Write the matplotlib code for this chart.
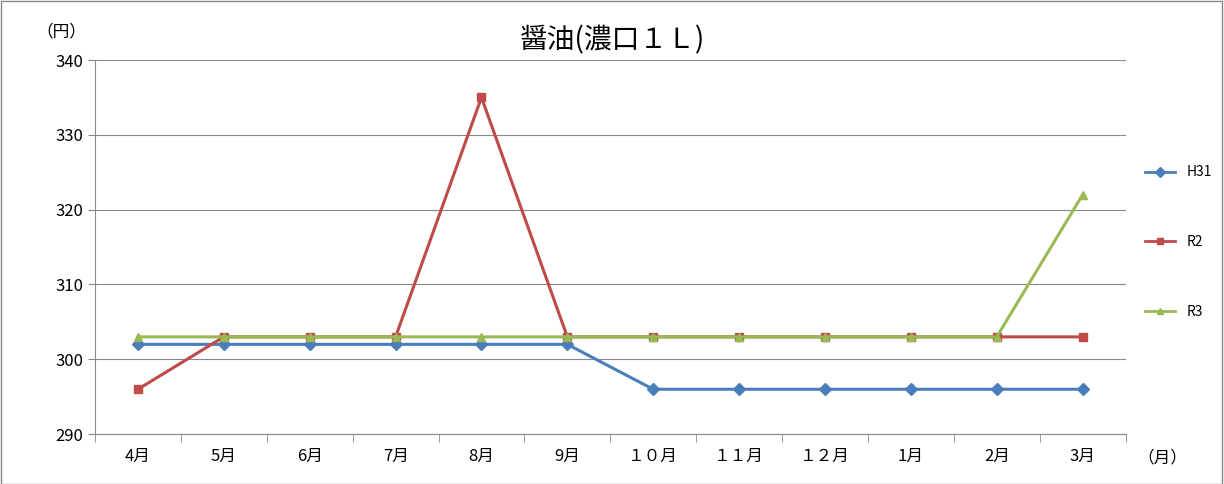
import matplotlib
matplotlib.use("Agg")
import matplotlib.pyplot as plt
from matplotlib.lines import Line2D

plt.rcParams['font.family'] = ['Noto Sans CJK JP', 'DejaVu Sans']

months = ["4月", "5月", "6月", "7月", "8月", "9月", "１０月", "１１月", "１２月", "1月", "2月", "3月"]
h31 = [302, 302, 302, 302, 302, 302, 296, 296, 296, 296, 296, 296]
r2 = [296, 303, 303, 303, 335, 303, 303, 303, 303, 303, 303, 303]
r3 = [303, 303, 303, 303, 303, 303, 303, 303, 303, 303, 303, 322]
series = [("H31", h31, "#4A7EBB", "D"), ("R2", r2, "#BE4B48", "s"), ("R3", r3, "#98B954", "^")]

fig = plt.figure(figsize=(12.24, 4.84), dpi=100)
ax = fig.add_axes([0.0776, 0.103, 0.842, 0.773])
x = list(range(len(months)))
for name, vals, c, m in series:
    ax.plot(x, vals, color=c, lw=2.2, marker=m, markersize=6, label=name)

ax.set_xlim(-0.5, len(months) - 0.5)
ax.set_ylim(290, 340)
ax.set_yticks(range(290, 341, 10))
ax.yaxis.grid(True, color="#888888", lw=0.8)
ax.set_axisbelow(True)
ax.set_xticks(x)
ax.set_xticklabels(months, fontsize=12)
ax.tick_params(axis='x', length=0, pad=10)
ax.set_xticks([i - 0.5 for i in range(len(months) + 1)], minor=True)
ax.tick_params(axis='x', which='minor', length=6, color="#888888")
ax.tick_params(axis='y', labelsize=12, length=5, color="#888888")
for s in ["top", "right"]:
    ax.spines[s].set_visible(False)
for s in ["left", "bottom"]:
    ax.spines[s].set_color("#888888")

fig.text(0.5, 0.90, "醤油(濃口１Ｌ)", ha="center", fontsize=20)
fig.text(0.05, 0.925, "（円）", ha="center", fontsize=12)
fig.text(0.95, 0.045, "（月）", ha="center", fontsize=12)

handles = [Line2D([0], [0], color=c, lw=2, marker=m, markersize=5) for _, _, c, m in series]
fig.legend(handles, [s[0] for s in series], loc="center left", bbox_to_anchor=(0.925, 0.5),
           frameon=False, labelspacing=4.0, handlelength=2.2, fontsize=10)

fig.patches.append(plt.Rectangle((0.0005, 0.001), 0.998, 0.997, transform=fig.transFigure,
                                 fill=False, edgecolor="#888888", lw=1))
fig.savefig("out.png", dpi=100)
